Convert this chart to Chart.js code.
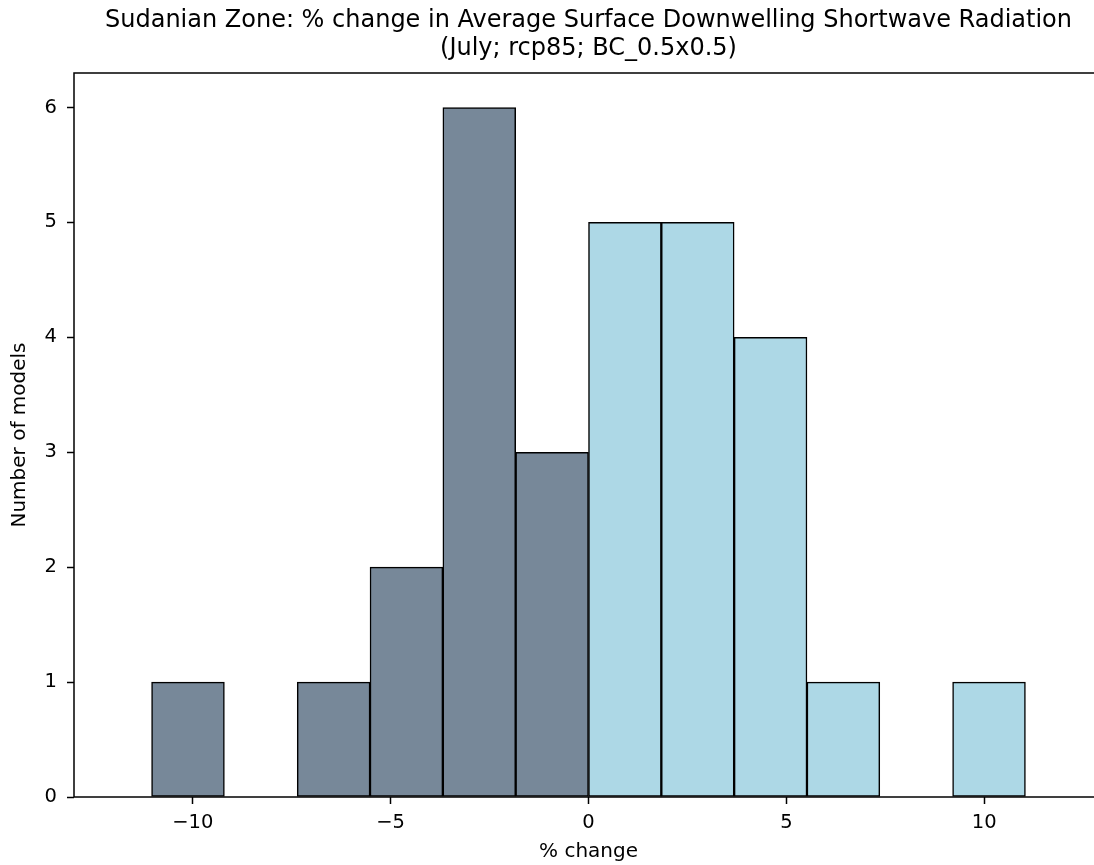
<!DOCTYPE html>
<html>
<head>
<meta charset="utf-8">
<title>Sudanian Zone histogram</title>
<script src="https://cdn.jsdelivr.net/npm/chart.js@4"></script>
<style>
  html, body { margin: 0; padding: 0; background: #fff; overflow: hidden; }
  #wrap { width: 1094px; height: 865px; overflow: hidden; }
</style>
</head>
<body>
<div id="wrap"><canvas id="hist" width="1110" height="865"></canvas></div>
<script>
// Histogram bins (% change), centres of each bin
const binCenters = [-10.12, -8.28, -6.44, -4.60, -2.76, -0.92, 0.92, 2.76, 4.60, 6.44, 8.28, 10.12];
// Number of models in each bin
const modelCounts = [1, 0, 1, 2, 6, 3, 5, 5, 4, 1, 0, 1];
// Tick labels
const xTicks = [-10, -5, 0, 5, 10];
const yTicks = [0, 1, 2, 3, 4, 5, 6];

const titleLines = [
    "Sudanian Zone: % change in Average Surface Downwelling Shortwave Radiation",
    "(July; rcp85; BC_0.5x0.5)"
];

const negColor = "#778899";  // lightslategray
const posColor = "#add8e6";  // lightblue
const fontFamily = "'DejaVu Sans', sans-serif";

// build point data for the bar chart
const points = binCenters.map((c, i) => ({ x: c, y: modelCounts[i] }));
const barColors = binCenters.map(c => c < 0 ? negColor : posColor);

// draw the 4 spines like matplotlib
const framePlugin = {
    id: "frame",
    afterDatasetsDraw(chart) {
        const a = chart.chartArea;
        const ctx = chart.ctx;
        ctx.save();
        ctx.strokeStyle = "#000";
        ctx.lineWidth = 1.5;
        ctx.strokeRect(a.left, a.top, a.right - a.left, a.bottom - a.top);
        ctx.restore();
    }
};

const ctx = document.getElementById("hist").getContext("2d");
new Chart(ctx, {
    type: "bar",
    data: {
        datasets: [{
            data: points,
            backgroundColor: barColors,
            borderColor: "#000",
            borderWidth: 1.5,
            borderSkipped: false,
            barPercentage: 1.0,
            categoryPercentage: 1.0
        }]
    },
    options: {
        responsive: false,
        animation: false,
        devicePixelRatio: 1,
        layout: { padding: { left: 0, right: 7, top: 0, bottom: 0 } },
        plugins: {
            legend: { display: false },
            tooltip: { enabled: false },
            title: {
                display: true,
                text: titleLines,
                fullSize: false,
                color: "#000",
                font: { family: fontFamily, size: 24, weight: "normal", lineHeight: "28px" },
                padding: { top: 7, bottom: 10 }
            }
        },
        scales: {
            x: {
                type: "linear",
                min: -13,
                max: 13,
                offset: false,
                afterBuildTicks: (scale) => { scale.ticks = xTicks.map(v => ({ value: v })); },
                afterFit: (scale) => { scale.height = 68; },
                ticks: {
                    autoSkip: false,
                    maxRotation: 0,
                    padding: 7,
                    color: "#000",
                    font: { family: fontFamily, size: 19.5 },
                    callback: (v) => v < 0 ? "\u2212" + Math.abs(v) : String(v)
                },
                grid: { display: true, offset: false, drawOnChartArea: false, drawTicks: true, tickLength: 7, tickColor: "#000", tickWidth: 1.5 },
                border: { display: false },
                title: {
                    display: true,
                    text: "% change",
                    color: "#000",
                    font: { family: fontFamily, size: 20 },
                    padding: { top: 0, bottom: 1 }
                }
            },
            y: {
                min: 0,
                max: 6.3,
                afterBuildTicks: (scale) => { scale.ticks = yTicks.map(v => ({ value: v })); },
                afterFit: (scale) => { scale.width = 74; },
                ticks: {
                    padding: 10,
                    color: "#000",
                    font: { family: fontFamily, size: 19.5 }
                },
                grid: { display: true, offset: false, drawOnChartArea: false, drawTicks: true, tickLength: 7, tickColor: "#000", tickWidth: 1.5 },
                border: { display: false },
                title: {
                    display: true,
                    text: "Number of models",
                    color: "#000",
                    font: { family: fontFamily, size: 20 },
                    padding: { top: 8, bottom: 0 }
                }
            }
        }
    },
    plugins: [framePlugin]
});
</script>
</body>
</html>
